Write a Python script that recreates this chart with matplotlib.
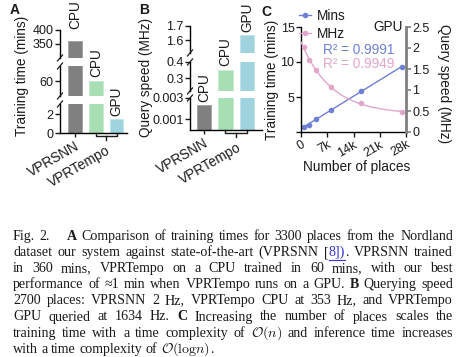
import numpy as np
import matplotlib
matplotlib.use('Agg')
import matplotlib.pyplot as plt
import matplotlib.transforms as mtransforms
from matplotlib.lines import Line2D

# ---- data ----
groups = ['VPRSNN', 'VPRTempo']
bar_labels = ['CPU', 'CPU', 'GPU']
train_mins = [360, 60, 1.5]          # panel A
query_mhz = [0.0023, 0.353, 1.634]   # panel B

# broken y axes, segments listed top -> bottom
a_ylims = [(300, 400), (45, 75), (0, 3.1)]
a_ticks = [[350, 400], [60], [0, 2]]
a_ticklabels = [['350', '400'], ['60'], ['0', '2']]
b_ylims = [(1.51, 1.7), (0.22, 0.4), (0, 0.003)]
b_ticks = [[1.6, 1.7], [0.3, 0.4], [0.001, 0.003]]
b_ticklabels = [['1.6', '1.7'], ['0.3', '0.4'], ['0.001', '0.003']]

# panel C
places = [800, 2000, 4000, 8000, 16000, 27000]
mins = [0.7, 1.0, 1.9, 3.2, 5.9, 9.3]
mhz = [2.03, 1.71, 1.47, 1.08, 0.69, 0.47]
r2_mins = 0.9991
r2_mhz = 0.9949
c_xticks = [0, 7000, 14000, 21000, 28000]
c_xticklabels = ['0', '7k', '14k', '21k', '28k']
c_yticks = [0, 5, 10, 15]
c_yticklabels = ['', '5', '10', '15']
c_y2ticks = [0, 0.5, 1, 1.5, 2, 2.5]
c_y2ticklabels = ['0', '0.5', '1', '1.5', '2', '2.5']

# ---- style ----
W, H = 466, 357
SANS = ['Liberation Sans', 'DejaVu Sans']
SERIF = ['Liberation Serif', 'DejaVu Serif']
INK = '#1a1a1a'
bar_colors = ['#808080', '#a8deb3', '#9fd3de']
edge_colors = ['#a6a6a6', '#c4ead0', '#c0e4eb']
blue = '#6d80d6'
pink = '#e2a6ca'
gray_axis = '#808080'
TICK_FS = 9
LABEL_FS = 9.8

plt.rcParams['font.family'] = SANS
plt.rcParams['text.color'] = INK
plt.rcParams['axes.labelcolor'] = INK
plt.rcParams['xtick.color'] = INK
plt.rcParams['ytick.color'] = INK
plt.rcParams['axes.linewidth'] = 1.0

fig = plt.figure(figsize=(W / 100, H / 100), dpi=100)


def box(x0, y0, x1, y1):
    """axes from pixel box (y measured from the top)"""
    return fig.add_axes([x0 / W, 1 - y1 / H, (x1 - x0) / W, (y1 - y0) / H])


def fxy(x, y):
    return x / W, 1 - y / H


def slash(x, y):
    x0, y0 = fxy(x - 2.5, y + 3)
    x1, y1 = fxy(x + 2.5, y - 3)
    fig.add_artist(Line2D([x0, x1], [y0, y1], color=INK, lw=0.9))


def broken_panel(x0, x1, seg_px, ylims, ticks, ticklabels, values, xlim, label_gaps):
    axes = []
    xpos = [0, 1, 2]
    for (y0, y1), lim, tk, tl in zip(seg_px, ylims, ticks, ticklabels):
        ax = box(x0, y0, x1, y1)
        ax.bar(xpos, values, width=0.66, color=bar_colors,
               edgecolor=edge_colors, linewidth=0.7)
        ax.set_xlim(*xlim)
        ax.set_ylim(*lim)
        ax.set_yticks(tk, labels=tl)
        ax.tick_params(axis='y', length=3.5, width=1, pad=1.2, labelsize=TICK_FS)
        for s in ['top', 'right', 'bottom']:
            ax.spines[s].set_visible(False)
        ax.set_xticks([])
        ax.patch.set_visible(False)
        axes.append(ax)

    # break marks at the ends of each segment
    for (ya0, ya1), (yb0, yb1) in zip(seg_px[:-1], seg_px[1:]):
        slash(x0, ya1)
        slash(x0, yb0)

    bottom = axes[-1]
    seg_h = seg_px[-1][1] - seg_px[-1][0]
    bottom.spines['bottom'].set_visible(True)
    bottom.set_xticks([0, 1.5], labels=groups, rotation=30, ha='right',
                      va='top', rotation_mode='anchor', fontsize=LABEL_FS)
    bottom.tick_params(axis='x', length=3, width=1, pad=1.5)
    bottom.xaxis.get_major_ticks()[1].tick1line.set_visible(False)
    lab = bottom.get_xticklabels()[1]
    lab.set_transform(lab.get_transform() +
                      mtransforms.ScaledTranslation(0, -3 / 72, fig.dpi_scale_trans))
    # bracket under the two VPRTempo bars
    tr = mtransforms.blended_transform_factory(bottom.transData, bottom.transAxes)
    d = 3.0 / seg_h
    bottom.plot([1, 1, 2, 2], [0, -d, -d, 0], color=INK, lw=1,
                transform=tr, clip_on=False)
    bottom.plot([1.5, 1.5], [-d, -2.2 * d], color=INK, lw=1,
                transform=tr, clip_on=False)

    # CPU / GPU labels above each bar
    for i, (v, txt) in enumerate(zip(values, bar_labels)):
        for ax, lim in zip(axes, ylims):
            if lim[0] <= v <= lim[1]:
                ax.annotate(txt, xy=(i, v), xytext=(0, label_gaps[i] * 0.72),
                            textcoords='offset points', rotation=90,
                            ha='center', va='bottom', fontsize=LABEL_FS,
                            annotation_clip=False)
                break
    return axes


# ---- panel A ----
broken_panel(60, 127, [(30, 58), (66, 96), (104, 133)], a_ylims, a_ticks,
             a_ticklabels, train_mins, (-0.72, 2.5), [12, 4, 3])
fig.text(*fxy(22, 76), 'Training time (mins)', rotation=90, ha='center',
         va='center', fontsize=LABEL_FS)
fig.text(*fxy(15, 10), 'A', fontweight='bold', fontsize=10, ha='center', va='center')

# ---- panel B ----
broken_panel(190, 262, [(26, 53), (62, 91), (98, 130)], b_ylims, b_ticks,
             b_ticklabels, query_mhz, (-0.65, 2.7), [3, 4, 3])
fig.text(*fxy(146, 77), 'Query speed (MHz)', rotation=90, ha='center',
         va='center', fontsize=LABEL_FS)
fig.text(*fxy(144, 10), 'B', fontweight='bold', fontsize=10, ha='center', va='center')

# ---- panel C ----
ax_c = box(301, 27, 406, 132)
ax_c.set_xlim(0, 28000)
ax_c.set_ylim(0, 15)
ax_r = ax_c.twinx()
ax_r.set_ylim(0, 2.5)

px = np.array(places, dtype=float)
coef = np.polyfit(px, mins, 1)
xf = np.linspace(px[0], px[-1], 50)
ax_c.plot(xf, np.polyval(coef, xf), color=blue, lw=1)
ax_c.plot(px, mins, 'o', color=blue, ms=4, mec='none')

# exponential decay fit  y = a*exp(-k x) + c
py = np.array(mhz)
best = None
for k in np.linspace(1e-5, 4e-4, 800):
    A = np.column_stack([np.exp(-k * px), np.ones_like(px)])
    sol = np.linalg.lstsq(A, py, rcond=None)[0]
    err = np.sum((A @ sol - py) ** 2)
    if best is None or err < best[0]:
        best = (err, k, sol)
_, k, (a, c) = best
xe = np.linspace(0, px[-1] + 400, 120)
ax_r.plot(xe, a * np.exp(-k * xe) + c, color=pink, lw=1)
ax_r.plot(px, mhz, 'o', color=pink, ms=4, mec='none')

for s in ['top', 'right']:
    ax_c.spines[s].set_visible(False)
for s in ['top', 'left', 'bottom']:
    ax_r.spines[s].set_visible(False)
ax_r.spines['right'].set_color(gray_axis)
ax_r.spines['right'].set_linewidth(2)

ax_c.set_xticks(c_xticks, labels=c_xticklabels, rotation=30, ha='right',
                va='top', rotation_mode='anchor')
ax_c.set_yticks(c_yticks, labels=c_yticklabels)
ax_r.set_yticks(c_y2ticks, labels=c_y2ticklabels)
ax_c.tick_params(length=3.5, width=1, pad=1.2, labelsize=TICK_FS)
ax_r.tick_params(length=3.5, width=1.2, pad=1.2, labelsize=TICK_FS,
                 color=gray_axis, labelcolor=INK)

handles = [Line2D([], [], color=blue, lw=1, marker='o', ms=4, mec='none'),
           Line2D([], [], color=pink, lw=1, marker='o', ms=4, mec='none')]
fig.legend(handles, ['Mins', 'MHz'], loc='upper left',
           bbox_to_anchor=fxy(299, 9), bbox_transform=fig.transFigure,
           frameon=False, fontsize=LABEL_FS, handlelength=0.9,
           handletextpad=0.45, labelspacing=0.3, borderpad=0, borderaxespad=0)

fig.text(*fxy(323, 50), 'R\u00b2 = %.4f' % r2_mins, color=blue, fontsize=LABEL_FS,
         ha='left', va='center')
fig.text(*fxy(323, 64), 'R\u00b2 = %.4f' % r2_mhz, color=pink, fontsize=LABEL_FS,
         ha='left', va='center')
fig.text(*fxy(403, 27), 'GPU', ha='right', va='center', fontsize=LABEL_FS)

fig.text(*fxy(272, 80), 'Training time (mins)', rotation=90, ha='center',
         va='center', fontsize=LABEL_FS)
fig.text(*fxy(444, 84), 'Query speed (MHz)', rotation=270, ha='center',
         va='center', fontsize=LABEL_FS)
fig.text(*fxy(357, 167), 'Number of places', ha='center', va='center',
         fontsize=LABEL_FS)
fig.text(*fxy(266, 12), 'C', fontweight='bold', fontsize=10, ha='center', va='center')

# ---- caption (justified, like the paper) ----
BOLD = {'fontweight': 'bold'}
LINK = {'color': '#3535c8'}
MATH = {'math_fontfamily': 'cm'}
CAP_FS = 10.1


def plain(s):
    return [[(w, {})] for w in s.split()]


caption = [
    plain('Fig. 2.') + [12, [('A', BOLD)]] +
    plain('Comparison of training times for 3300 places from the Nordland'),
    plain('dataset our system against state-of-the-art (VPRSNN') +
    [[('[', {}), ('8])', LINK), ('.', {})]] + plain('VPRSNN trained'),
    plain('in 360 mins, VPRTempo on a CPU trained in 60 mins, with our best'),
    plain('performance of \u22481 min when VPRTempo runs on a GPU.') +
    [[('B', BOLD)]] + plain('Querying speed'),
    plain('2700 places: VPRSNN 2 Hz, VPRTempo CPU at 353 Hz, and VPRTempo'),
    plain('GPU queried at 1634 Hz.') + [[('C', BOLD)]] +
    plain('Increasing the number of places scales the'),
    plain('training time with a time complexity of') +
    [[(r'$\mathcal{O}(n)$', MATH)]] + plain('and inference time increases'),
    plain('with a time complexity of') +
    [[(r'$\mathcal{O}(\mathrm{log}n)$', MATH), ('.', {})]],
]

renderer = fig.canvas.get_renderer()
L, R = 13, 453
space_w = 0.25 * CAP_FS * 100 / 72
underline = []
for row, words in enumerate(caption):
    yb = 240 + 16.1 * row
    items = []
    for word in words:
        if isinstance(word, (int, float)):
            items.append(('fix', word, None))
            continue
        texts, w = [], 0.0
        for s, kw in word:
            t = fig.text(0, 0, s, fontsize=CAP_FS, family=SERIF, va='baseline',
                         ha='left', **kw)
            bb = t.get_window_extent(renderer)
            texts.append((t, w, kw))
            w += bb.width
        items.append(('word', w, texts))
    n_words = sum(1 for it in items if it[0] == 'word')
    fixed = sum(it[1] for it in items if it[0] == 'fix')
    used = sum(it[1] for it in items if it[0] == 'word')
    last = row == len(caption) - 1
    gap = space_w if last else (R - L - used - fixed) / (n_words - 1)
    x = L
    for kind, w, texts in items:
        if kind == 'fix':
            x += w
            continue
        for t, off, kw in texts:
            t.set_position(fxy(x + off, yb))
            if kw is LINK:
                underline.append(t)
        x += w + gap

for t in underline:
    bb = t.get_window_extent(renderer)
    y = bb.y0 - 0.5
    fig.add_artist(Line2D([bb.x0 / W, bb.x1 / W], [y / H, y / H],
                          color=LINK['color'], lw=0.8))

fig.savefig('out.png', dpi=100)
